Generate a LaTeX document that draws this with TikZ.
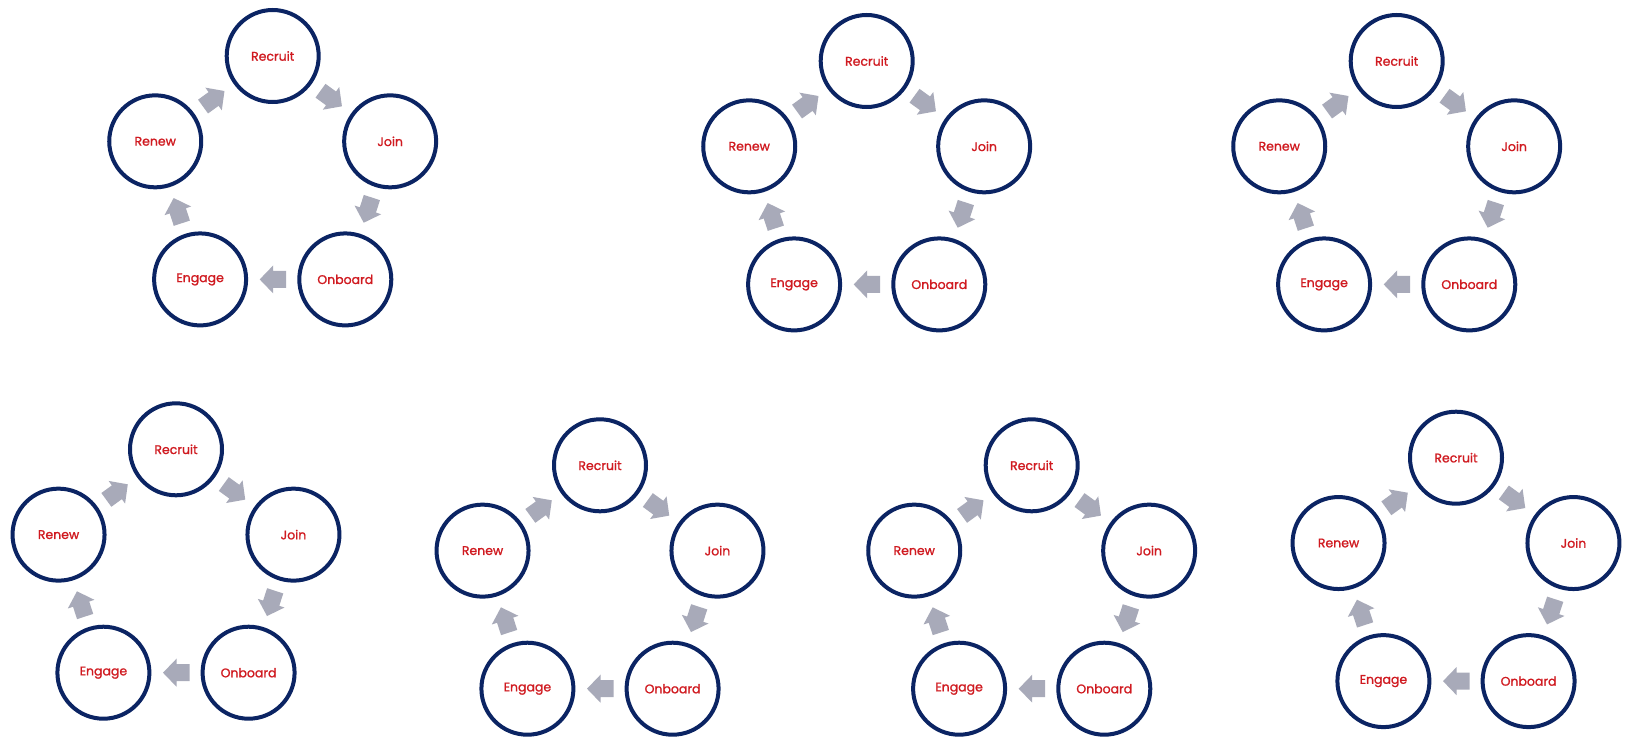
\documentclass[tikz,border=0pt]{standalone}
\usepackage{fontspec}
\setmainfont{Poppins}
\newfontfamily\lblfont[FakeBold=1.2]{Poppins}
\definecolor{navy}{HTML}{0B2463}
\definecolor{cred}{HTML}{D01A20}
\definecolor{agray}{HTML}{A8AAB9}
\tikzset{
  stage/.style={circle, draw=navy, line width=4pt, minimum size=92pt, inner sep=0pt,
    text=cred, font=\lblfont\fontsize{12.5}{14}\selectfont},
  blockarr/.pic={\fill[agray] (-13.5,-8.5) -- (-0.5,-8.5) -- (-0.5,-14) -- (13,0) -- (-0.5,14) -- (-0.5,8.5) -- (-13.5,8.5) -- cycle;},
  flow/.style={midway, sloped, allow upside down}
}
\newcommand\cyc[3]{%
  \begin{scope}[shift={(#2,#3)}]
    \node[stage] (#1r) at (0,0) {Recruit};
    \node[stage] (#1j) at (117.46,85.34) {Join};
    \node[stage] (#1o) at (72.59,223.41) {Onboard};
    \node[stage] (#1e) at (-72.59,223.41) {Engage};
    \node[stage] (#1n) at (-117.46,85.34) {Renew};
  \end{scope}
  \path (#1r) -- pic[flow]{blockarr} (#1j);
  \path (#1j) -- pic[flow]{blockarr} (#1o);
  \path (#1o) -- pic[flow]{blockarr} (#1e);
  \path (#1e) -- pic[flow]{blockarr} (#1n);
  \path (#1n) -- pic[flow]{blockarr} (#1r);
}
\begin{document}
\begin{tikzpicture}[x=1pt,y=-1pt]
  \fill[white] (0,0) rectangle (1626,741);
  \useasboundingbox (0,0) rectangle (1626,741);
  \cyc{a}{272.7}{56}
  \cyc{b}{866.7}{61}
  \cyc{c}{1396.7}{61}
  \cyc{d}{176}{449.3}
  \cyc{e}{600}{465.3}
  \cyc{f}{1031.7}{465.3}
  \cyc{g}{1456}{457.7}
\end{tikzpicture}
\end{document}
